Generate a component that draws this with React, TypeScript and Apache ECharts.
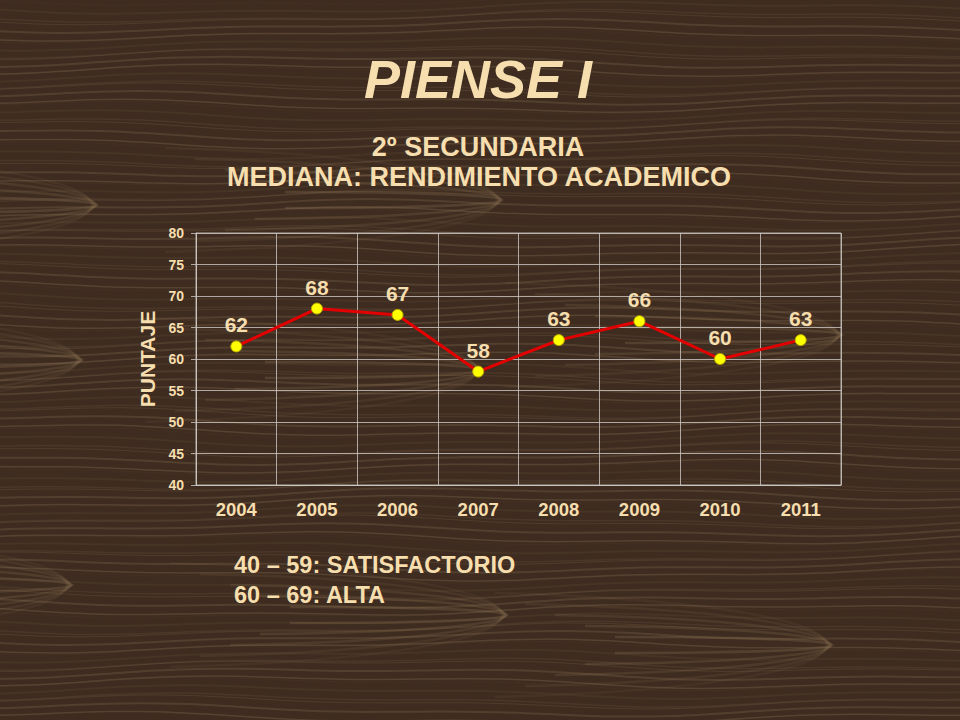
import React, { useEffect, useRef } from "react";
import * as echarts from "echarts";

const years = ["2004", "2005", "2006", "2007", "2008", "2009", "2010", "2011"];
const puntaje = [62, 68, 67, 58, 63, 66, 60, 63];
const titleText = "PIENSE I";
const subtitleLines = ["2º SECUNDARIA", "MEDIANA: RENDIMIENTO ACADEMICO"];
const legendLines = ["40 – 59: SATISFACTORIO", "60 – 69: ALTA"];
const yAxisName = "PUNTAJE";

const CREAM = "#F6DEAE";
const FONT = 'Arial, "Liberation Sans", sans-serif';
const GRIDLINE = "rgba(205,200,195,0.8)";

function buildGrain(): any[] {
  const els: any[] = [];
  // horizontal wood streaks (decorative)
  for (let i = 0; i < 120; i++) {
    const y0 = i * 6 + (i % 3) * 2;
    const pts: number[][] = [];
    for (let x = -20; x <= 980; x += 40) {
      const dy =
        5 * Math.sin((x + i * 37) / 150) + 2 * Math.sin((x * 1.7 + i * 11) / 90);
      pts.push([x, y0 + dy]);
    }
    const op = 0.06 + ((i * 7) % 6) * 0.045;
    els.push({
      type: "polyline",
      silent: true,
      z: -10,
      shape: { points: pts, smooth: 0.5 },
      style: {
        stroke: `rgba(150,124,92,${op.toFixed(2)})`,
        lineWidth: 1 + ((i * 5) % 3) * 0.5,
        fill: "none",
      },
    });
  }
  // U-turn grain figures (decorative)
  const tips = [
    [140, 205],
    [125, 360],
    [115, 585],
    [545, 200],
    [525, 370],
    [550, 615],
    [885, 335],
    [875, 645],
  ];
  tips.forEach(([tx, ty]) => {
    for (let j = 0; j < 5; j++) {
      const h = 8 + j * 8;
      const w = 260 + j * 30;
      els.push({
        type: "bezierCurve",
        silent: true,
        z: -9,
        shape: {
          x1: tx - w,
          y1: ty - h - j * 3,
          x2: tx - w,
          y2: ty + h + j * 3,
          cpx1: tx + 30 + j * 8,
          cpy1: ty - h,
          cpx2: tx + 30 + j * 8,
          cpy2: ty + h,
        },
        style: {
          stroke: `rgba(165,138,102,${(0.22 - j * 0.035).toFixed(2)})`,
          lineWidth: 2.5,
          fill: "none",
        },
      });
    }
  });
  return els;
}

export default function App() {
  const ref = useRef<HTMLDivElement>(null);
  useEffect(() => {
    document.body.style.margin = "0";
    const chart = echarts.init(ref.current!, null, { renderer: "svg" });
    const option: any = {
      animation: false,
      backgroundColor: "#3e2c20",
      grid: {
        left: 196,
        right: 119,
        top: 233,
        bottom: 235,
        show: true,
        borderColor: GRIDLINE,
        borderWidth: 1,
        backgroundColor: "transparent",
      },
      xAxis: {
        type: "category",
        data: years,
        boundaryGap: true,
        axisLine: { show: true, lineStyle: { color: GRIDLINE, width: 1 } },
        axisTick: { show: false },
        splitLine: { show: true, lineStyle: { color: GRIDLINE, width: 1 } },
        axisLabel: {
          color: CREAM,
          fontFamily: FONT,
          fontWeight: "bold",
          fontSize: 18.5,
          margin: 15,
        },
      },
      yAxis: {
        type: "value",
        min: 40,
        max: 80,
        interval: 5,
        name: yAxisName,
        nameLocation: "middle",
        nameRotate: 90,
        nameGap: 38,
        nameTextStyle: {
          color: CREAM,
          fontFamily: FONT,
          fontWeight: "bold",
          fontSize: 21,
        },
        axisLine: { show: true, lineStyle: { color: GRIDLINE, width: 1 } },
        axisTick: { show: true, length: 5, lineStyle: { color: GRIDLINE } },
        splitLine: { show: true, lineStyle: { color: GRIDLINE, width: 1 } },
        axisLabel: {
          color: CREAM,
          fontFamily: FONT,
          fontWeight: "bold",
          fontSize: 14,
          margin: 12,
        },
      },
      series: [
        {
          type: "line",
          data: puntaje,
          lineStyle: { color: "#E30000", width: 3 },
          symbol: "circle",
          symbolSize: 11,
          itemStyle: { color: "#FFFF00", borderColor: "#b8a800", borderWidth: 1 },
          label: {
            show: true,
            position: "top",
            distance: 5,
            color: CREAM,
            fontFamily: FONT,
            fontWeight: "bold",
            fontSize: 21,
          },
          z: 5,
        },
      ],
      graphic: [
        ...buildGrain(),
        {
          type: "text",
          x: 478,
          y: 79,
          z: 10,
          style: {
            text: titleText,
            fill: CREAM,
            font: `italic bold 54px ${FONT}`,
            textAlign: "center",
            textVerticalAlign: "middle",
            shadowColor: "rgba(0,0,0,0.9)",
            shadowBlur: 3,
            shadowOffsetX: 3,
            shadowOffsetY: 3,
          },
        },
        {
          type: "text",
          x: 478,
          y: 147,
          z: 10,
          style: {
            text: subtitleLines[0],
            fill: CREAM,
            font: `bold 27px ${FONT}`,
            textAlign: "center",
            textVerticalAlign: "middle",
          },
        },
        {
          type: "text",
          x: 479,
          y: 177,
          z: 10,
          style: {
            text: subtitleLines[1],
            fill: CREAM,
            font: `bold 27px ${FONT}`,
            textAlign: "center",
            textVerticalAlign: "middle",
          },
        },
        {
          type: "text",
          x: 234,
          y: 565,
          z: 10,
          style: {
            text: legendLines[0],
            fill: CREAM,
            font: `bold 23.5px ${FONT}`,
            textAlign: "left",
            textVerticalAlign: "middle",
          },
        },
        {
          type: "text",
          x: 234,
          y: 595,
          z: 10,
          style: {
            text: legendLines[1],
            fill: CREAM,
            font: `bold 23.5px ${FONT}`,
            textAlign: "left",
            textVerticalAlign: "middle",
          },
        },
      ],
    };
    chart.setOption(option);
    return () => chart.dispose();
  }, []);
  return (
    <div
      ref={ref}
      style={{ position: "fixed", left: 0, top: 0, width: 960, height: 720 }}
    />
  );
}
